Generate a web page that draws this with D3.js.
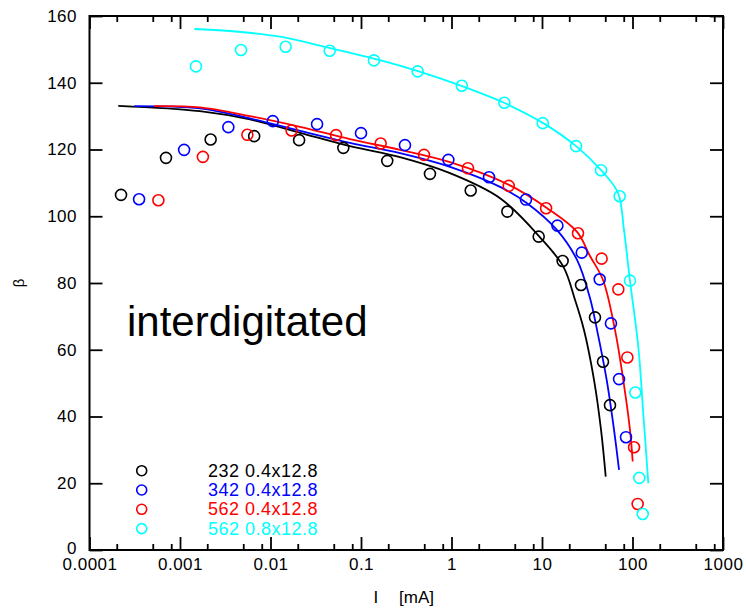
<!DOCTYPE html>
<html>
<head>
<meta charset="utf-8">
<script src="https://cdn.jsdelivr.net/npm/d3@7"></script>
<style>
  body { margin: 0; background: #fff; }
  svg { display: block; font-family: "Liberation Sans", Arial, sans-serif; }
</style>
</head>
<body>
<svg id="chart" width="746" height="608"></svg>
<script>
// ===================================================================
// data: I [mA], beta

const SERIES_NAMES = ['232 0.4x12.8', '342 0.4x12.8', '562 0.4x12.8', '562 0.8x12.8']
const SERIES_COLORS = ['#000000', '#0000ff', '#ff0000', '#00ffff']

const points232 = [
  [2.23e-4, 106.4], [7.0e-4, 117.5], [2.18e-3, 123.0], [6.6e-3, 124.0],
  [0.0207, 122.8], [0.0638, 120.5], [0.195, 116.6], [0.578, 112.7],
  [1.63, 107.7], [4.14, 101.4], [9.19, 93.9], [16.9, 86.6],
  [27.0, 79.4], [38.5, 69.7], [47.2, 56.4], [56.4, 43.4]
]
const points342 = [
  [3.53e-4, 105.1], [1.11e-3, 119.9], [3.42e-3, 126.7], [0.0106, 128.5],
  [0.0327, 127.6], [0.100, 124.9], [0.306, 121.3], [0.923, 116.9],
  [2.60, 111.7], [6.65, 105.0], [14.8, 97.2], [27.5, 89.1],
  [43.4, 81.1], [57.8, 67.9], [71.0, 51.2], [84.8, 33.8]
]
const points562a = [
  [5.77e-4, 104.8], [1.79e-3, 117.8], [5.55e-3, 124.4], [0.0171, 125.7],
  [0.053, 124.3], [0.165, 121.8], [0.497, 118.4], [1.52, 114.4],
  [4.29, 109.1], [11.1, 102.4], [25.0, 94.9], [45.6, 87.3],
  [69.7, 78.1], [87.7, 57.7], [104, 30.8], [114, 13.8]
]
const points562b = [
  [1.50e-3, 144.9], [4.72e-3, 149.8], [0.0147, 150.8], [0.0451, 149.6],
  [0.139, 146.7], [0.423, 143.4], [1.30, 139.1], [3.84, 134.0],
  [10.2, 127.9], [23.8, 121.0], [44.9, 113.8], [72.1, 106.0],
  [93.8, 80.7], [107.4, 47.2], [118.9, 21.6], [129.7, 10.8]
]

// fitted curves
const fit232 = [
  [2.08e-4, 133.1], [1.66e-3, 131.5], [5.93e-3, 129.0], [0.0212, 125.0],
  [0.0755, 121.0], [0.270, 117.7], [0.962, 112.9], [3.44, 105.4],
  [9.51, 93.7], [17.2, 84.9], [23.2, 74.9], [29.1, 65.9],
  [37.6, 50.9], [44.9, 36.0], [50.6, 22.0]
]
const fit342 = [
  [3.13e-4, 133.0], [1.66e-3, 132.3], [5.93e-3, 129.3], [0.0212, 125.6],
  [0.0755, 122.0], [0.270, 118.9], [0.962, 114.8], [3.44, 108.8],
  [6.83, 103.9], [14.6, 95.9], [24.4, 86.9], [33.9, 75.5],
  [40.6, 65.9], [51.9, 50.9], [62.5, 36.0], [71.0, 24.0]
]
const fit562a = [
  [5.16e-4, 133.0], [1.66e-3, 132.6], [5.93e-3, 130.0], [0.0212, 126.8],
  [0.0755, 123.1], [0.270, 119.9], [0.962, 116.2], [4.32, 109.4],
  [11.3, 102.5], [24.4, 95.3], [33.9, 88.1], [47.2, 80.9],
  [64.1, 65.9], [79.1, 50.9], [93.8, 36.0], [100.5, 26.5]
]
const fit562b = [
  [1.44e-3, 156.1], [3.56e-3, 155.5], [0.01274, 153.8], [0.0454, 150.4],
  [0.162, 146.8], [0.427, 143.5], [1.31, 139.0], [3.80, 134.0],
  [10.3, 127.9], [23.8, 121.0], [44.9, 113.8], [69.2, 107.0],
  [80.5, 95.9], [93.8, 80.6], [115.9, 60.9], [131.5, 41.0], [149.6, 20.0]
]

const POINTS = [points232, points342, points562a, points562b]
const FITS = [fit232, fit342, fit562a, fit562b]

const X_TICKS = [1e-4, 1e-3, 1e-2, 1e-1, 1, 10, 100, 1000]
const X_TICK_LABELS = ['0.0001', '0.001', '0.01', '0.1', '1', '10', '100', '1000']
const X_MINOR_MULT = [2, 5, 8]
const Y_TICKS = [0, 20, 40, 60, 80, 100, 120, 140, 160]

// ===================================================================

const LEFT = 89.5
const RIGHT = 723
const TOP = 16
const BOTTOM = 550

const MAJOR = 13
const MINOR = 6

const x = d3.scaleLog().domain([1e-4, 1e3]).range([LEFT, RIGHT])
const y = d3.scaleLinear().domain([0, 160]).range([BOTTOM, TOP])

const minorTicks = []
X_TICKS.slice(0, -1).forEach(d => {
  X_MINOR_MULT.forEach(m => minorTicks.push(d * m))
})

const svg = d3.select('#chart')

function styleAxis (g) {
  g.select('.domain').remove()
  g.selectAll('.tick line').attr('stroke', '#000').attr('stroke-width', 1.8)
  g.selectAll('.tick text')
    .attr('fill', '#000')
    .style('font-size', '17px')
    .style('letter-spacing', '0.5px')
    .attr('font-family', null)
}

// bottom
svg.append('g')
  .attr('transform', `translate(0, ${BOTTOM})`)
  .call(d3.axisBottom(x).tickValues(X_TICKS).tickFormat((d, i) => X_TICK_LABELS[i])
    .tickSizeInner(-MAJOR).tickSizeOuter(0).tickPadding(7.5))
  .call(styleAxis)
svg.append('g')
  .attr('transform', `translate(0, ${BOTTOM})`)
  .call(d3.axisBottom(x).tickValues(minorTicks).tickFormat('')
    .tickSizeInner(-MINOR).tickSizeOuter(0))
  .call(styleAxis)

// top
svg.append('g')
  .attr('transform', `translate(0, ${TOP})`)
  .call(d3.axisTop(x).tickValues(X_TICKS).tickFormat('')
    .tickSizeInner(-MAJOR).tickSizeOuter(0))
  .call(styleAxis)
svg.append('g')
  .attr('transform', `translate(0, ${TOP})`)
  .call(d3.axisTop(x).tickValues(minorTicks).tickFormat('')
    .tickSizeInner(-MINOR).tickSizeOuter(0))
  .call(styleAxis)

// left / right
svg.append('g')
  .attr('transform', `translate(${LEFT}, 0)`)
  .call(d3.axisLeft(y).tickValues(Y_TICKS)
    .tickSizeInner(-MAJOR).tickSizeOuter(0).tickPadding(12.5))
  .call(styleAxis)
  .call(g => g.selectAll('.tick text').attr('dy', (d) => d === 0 ? '0.2em' : '0.32em'))
svg.append('g')
  .attr('transform', `translate(${RIGHT}, 0)`)
  .call(d3.axisRight(y).tickValues(Y_TICKS).tickFormat('')
    .tickSizeInner(-MAJOR).tickSizeOuter(0))
  .call(styleAxis)

svg.append('rect')
  .attr('x', LEFT)
  .attr('y', TOP)
  .attr('width', RIGHT - LEFT)
  .attr('height', BOTTOM - TOP)
  .attr('fill', 'none')
  .attr('stroke', '#000')
  .attr('stroke-width', 2)

// axis titles
const xLabel = svg.append('text')
  .attr('y', 603)
  .style('font-size', '17px')
xLabel.append('tspan').attr('x', 373.5).text('I')
xLabel.append('tspan').attr('x', 399).text('[mA]')

svg.append('text')
  .attr('transform', 'translate(24, 283) rotate(-90)')
  .attr('text-anchor', 'middle')
  .style('font-size', '15px')
  .text('β')

svg.append('text')
  .attr('x', 127)
  .attr('y', 336)
  .style('font-size', '42px')
  .text('interdigitated')

// ===================================================================

const line = d3.line()
  .x(d => x(d[0]))
  .y(d => y(d[1]))
  .curve(d3.curveCatmullRom.alpha(0.5))

FITS.forEach((fit, i) => {
  svg.append('path')
    .datum(fit)
    .attr('d', line)
    .attr('fill', 'none')
    .attr('stroke', SERIES_COLORS[i])
    .attr('stroke-width', 1.8)
})

POINTS.forEach((pts, i) => {
  svg.append('g')
    .selectAll('circle')
    .data(pts)
    .join('circle')
      .attr('cx', d => x(d[0]))
      .attr('cy', d => y(d[1]))
      .attr('r', 5.5)
      .attr('fill', 'none')
      .attr('stroke', SERIES_COLORS[i])
      .attr('stroke-width', 1.6)
})

// legend
const legend = svg.append('g')
  .selectAll('g')
  .data(SERIES_NAMES)
  .join('g')
    .attr('transform', (d, i) => `translate(0, ${470.7 + i * 19.3})`)

legend.append('circle')
  .attr('cx', 141.7)
  .attr('r', 5)
  .attr('fill', 'none')
  .attr('stroke', (d, i) => SERIES_COLORS[i])
  .attr('stroke-width', 1.6)

legend.append('text')
  .attr('x', 208)
  .attr('y', 6)
  .attr('fill', (d, i) => SERIES_COLORS[i])
  .style('font-size', '18px')
  .style('letter-spacing', '0.5px')
  .text(d => d)
</script>
</body>
</html>
